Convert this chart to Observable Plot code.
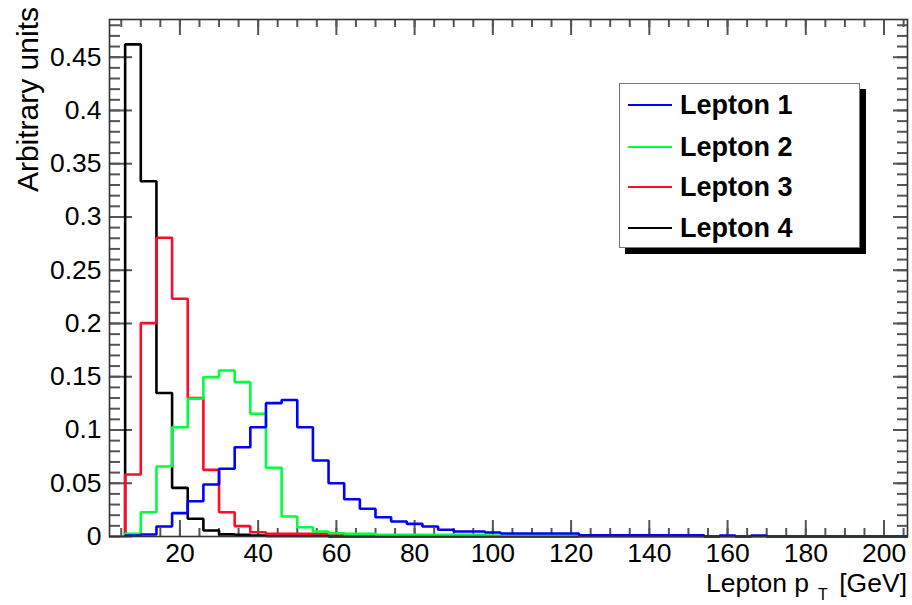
<!DOCTYPE html>
<html><head><meta charset="utf-8">
<script src="https://cdn.jsdelivr.net/npm/d3@7"></script>
<script src="https://cdn.jsdelivr.net/npm/@observablehq/plot@0.6"></script>
<style>
body{margin:0;background:#fff;font-family:"Liberation Sans",Arial,Helvetica,sans-serif;}
#wrap{position:relative;width:912px;height:605px;overflow:hidden;}
#legend{position:absolute;left:619px;top:83px;width:239px;height:163px;border:1.5px solid #777;background:#fff;box-shadow:6px 6px 0 #000;}
.row{position:absolute;left:0;height:40px;display:flex;align-items:center;}
.sw{width:44px;height:2.5px;margin-left:8px;}
.lt{margin-left:8px;font-weight:bold;font-size:27px;color:#000;white-space:nowrap;}
#ytitle{position:absolute;left:12px;top:207px;width:200px;text-align:right;font-size:30px;line-height:32px;transform:rotate(-90deg);transform-origin:top left;white-space:nowrap;}
#xtitle{position:absolute;right:5px;top:575px;font-size:26.5px;line-height:16px;white-space:nowrap;}
#xtitle .sub{font-size:16px;position:relative;top:8px;margin-left:9px;margin-right:4px;}
</style>
</head><body>
<div id="wrap"></div>
<script>
// Bin left edges (GeV), 4 GeV wide bins from 6 to 206
const binStart = 6;
const binWidth = 4;
const seriesNames = ["Lepton 1", "Lepton 2", "Lepton 3", "Lepton 4"];
const seriesColors = ["#0000ff", "#00ff3c", "#ff0a28", "#000000"];

const lepton1 = [0.0010,0.0019,0.0094,0.0219,0.0331,0.0488,0.0636,0.0838,0.1026,0.1252,
                 0.1282,0.1026,0.0714,0.0500,0.0350,0.0260,0.0181,0.0141,0.0119,0.0094,
                 0.0063,0.0047,0.0047,0.0038,0.0028,0.0028,0.0028,0.0028,0.0028,0.0012,
                 0.0012,0.0012,0.0012,0.0012,0.0012,0.0012,0.0012,0.0000,0.0010,0.0000,
                 0.0010,0,0,0,0,0,0,0,0,0];
const lepton2 = [0.0025,0.0228,0.0657,0.1026,0.1293,0.1496,0.1559,0.1449,0.1152,0.0645,
                 0.0188,0.0087,0.0047,0.0031,0.0025,0.0025,0.0016,0.0016,0.0016,0.0016,
                 0.0016,0.0016,0.0016,0.0008,0.0008,0.0008,0.0008,0.0008,0.0008,0,
                 0,0,0,0,0,0,0,0,0,0,
                 0,0,0,0,0,0,0,0,0,0];
const lepton3 = [0.0582,0.2003,0.2805,0.2232,0.1300,0.0626,0.0228,0.0097,0.0040,0.0025,
                 0.0025,0.0025,0.0025,0.0025,0.0006,0.0006,0.0006,0.0006,0.0006,0.0006,
                 0.0006,0.0006,0.0006,0,0,0,0,0,0,0,
                 0,0,0,0,0,0,0,0,0,0,
                 0,0,0,0,0,0,0,0,0,0];
const lepton4 = [0.4620,0.3336,0.1347,0.0457,0.0166,0.0056,0.0020,0.0015,0.0010,0.0006,
                 0.0004,0.0004,0.0004,0,0,0,0,0,0,0,
                 0,0,0,0,0,0,0,0,0,0,
                 0,0,0,0,0,0,0,0,0,0,
                 0,0,0,0,0,0,0,0,0,0];

const xTicks = [20,40,60,80,100,120,140,160,180,200];
const yTicks = [0,0.05,0.1,0.15,0.2,0.25,0.3,0.35,0.4,0.45];
const yTickLabels = ["0","0.05","0.1","0.15","0.2","0.25","0.3","0.35","0.4","0.45"];
const xDomain = [2, 206];
const yDomain = [0, 0.4854];

const W = 912, H = 605, mL = 109, mR = 5, mT = 19, mB = 69;
const innerW = W - mL - mR, innerH = H - mT - mB;

function steps(values) {
  const pts = [{x: binStart, y: 0}];
  values.forEach((v, i) => pts.push({x: binStart + i * binWidth, y: v}));
  pts.push({x: binStart + values.length * binWidth, y: values[values.length - 1]});
  return pts;
}
const allSeries = [lepton1, lepton2, lepton3, lepton4];

const xMinor = d3.range(5, 206, 5);
const yMinor = d3.range(0, 49).map(i => +(i * 0.01).toFixed(2));

const tickColor = "#555";
const marks = [];
// ticks: bottom, top (x); left, right (y) — all pointing inward
marks.push(Plot.tickX(xMinor, {x: d => d, insetTop: innerH - 8, stroke: tickColor, strokeWidth: 2}));
marks.push(Plot.tickX(xTicks, {x: d => d, insetTop: innerH - 16, stroke: tickColor, strokeWidth: 2}));
marks.push(Plot.tickX(xMinor, {x: d => d, insetBottom: innerH - 8, stroke: tickColor, strokeWidth: 2}));
marks.push(Plot.tickX(xTicks, {x: d => d, insetBottom: innerH - 16, stroke: tickColor, strokeWidth: 2}));
marks.push(Plot.tickY(yMinor, {y: d => d, insetRight: innerW - 11, stroke: tickColor, strokeWidth: 2}));
marks.push(Plot.tickY(yTicks, {y: d => d, insetRight: innerW - 23, stroke: tickColor, strokeWidth: 2}));
marks.push(Plot.tickY(yMinor, {y: d => d, insetLeft: innerW - 10, stroke: tickColor, strokeWidth: 2}));
marks.push(Plot.tickY(yTicks, {y: d => d, insetLeft: innerW - 14, stroke: tickColor, strokeWidth: 2}));

// histograms (drawn back to front: Lepton 4, 3, 2, 1)
for (let s = allSeries.length - 1; s >= 0; s--) {
  marks.push(Plot.line(steps(allSeries[s]), {
    x: "x", y: "y", curve: "step-after",
    stroke: seriesColors[s], strokeWidth: 2.6,
    strokeLinejoin: "miter", strokeLinecap: "butt"
  }));
}
marks.push(Plot.frame({stroke: "#333", strokeWidth: 1.6}));
marks.push(Plot.axisX({anchor: "bottom", ticks: xTicks, tickSize: 0, tickPadding: 7, fontSize: 26.5, label: null, tickFormat: d => String(d)}));
marks.push(Plot.axisY({anchor: "left", ticks: yTicks, tickSize: 0, tickPadding: 8, fontSize: 26.5, label: null,
  tickFormat: d => yTickLabels[yTicks.indexOf(d)]}));

const chart = Plot.plot({
  width: W, height: H,
  marginLeft: mL, marginRight: mR, marginTop: mT, marginBottom: mB,
  x: {domain: xDomain},
  y: {domain: yDomain},
  style: {fontFamily: '"Liberation Sans", Arial, Helvetica, sans-serif', color: "#000", background: "#fff"},
  marks
});

const wrap = document.getElementById("wrap");
wrap.appendChild(chart);

const yt = document.createElement("div");
yt.id = "ytitle"; yt.textContent = "Arbitrary units";
wrap.appendChild(yt);

const xt = document.createElement("div");
xt.id = "xtitle";
xt.innerHTML = 'Lepton p<span class="sub">T</span> [GeV]';
wrap.appendChild(xt);

const lg = document.createElement("div");
lg.id = "legend";
const rowCenters = [21, 63, 103, 144];
seriesNames.forEach((name, i) => {
  const r = document.createElement("div");
  r.className = "row";
  r.style.top = (rowCenters[i] - 20) + "px";
  const sw = document.createElement("div");
  sw.className = "sw"; sw.style.background = seriesColors[i];
  const t = document.createElement("span");
  t.className = "lt"; t.textContent = name;
  r.appendChild(sw); r.appendChild(t);
  lg.appendChild(r);
});
wrap.appendChild(lg);
</script>
</body></html>
